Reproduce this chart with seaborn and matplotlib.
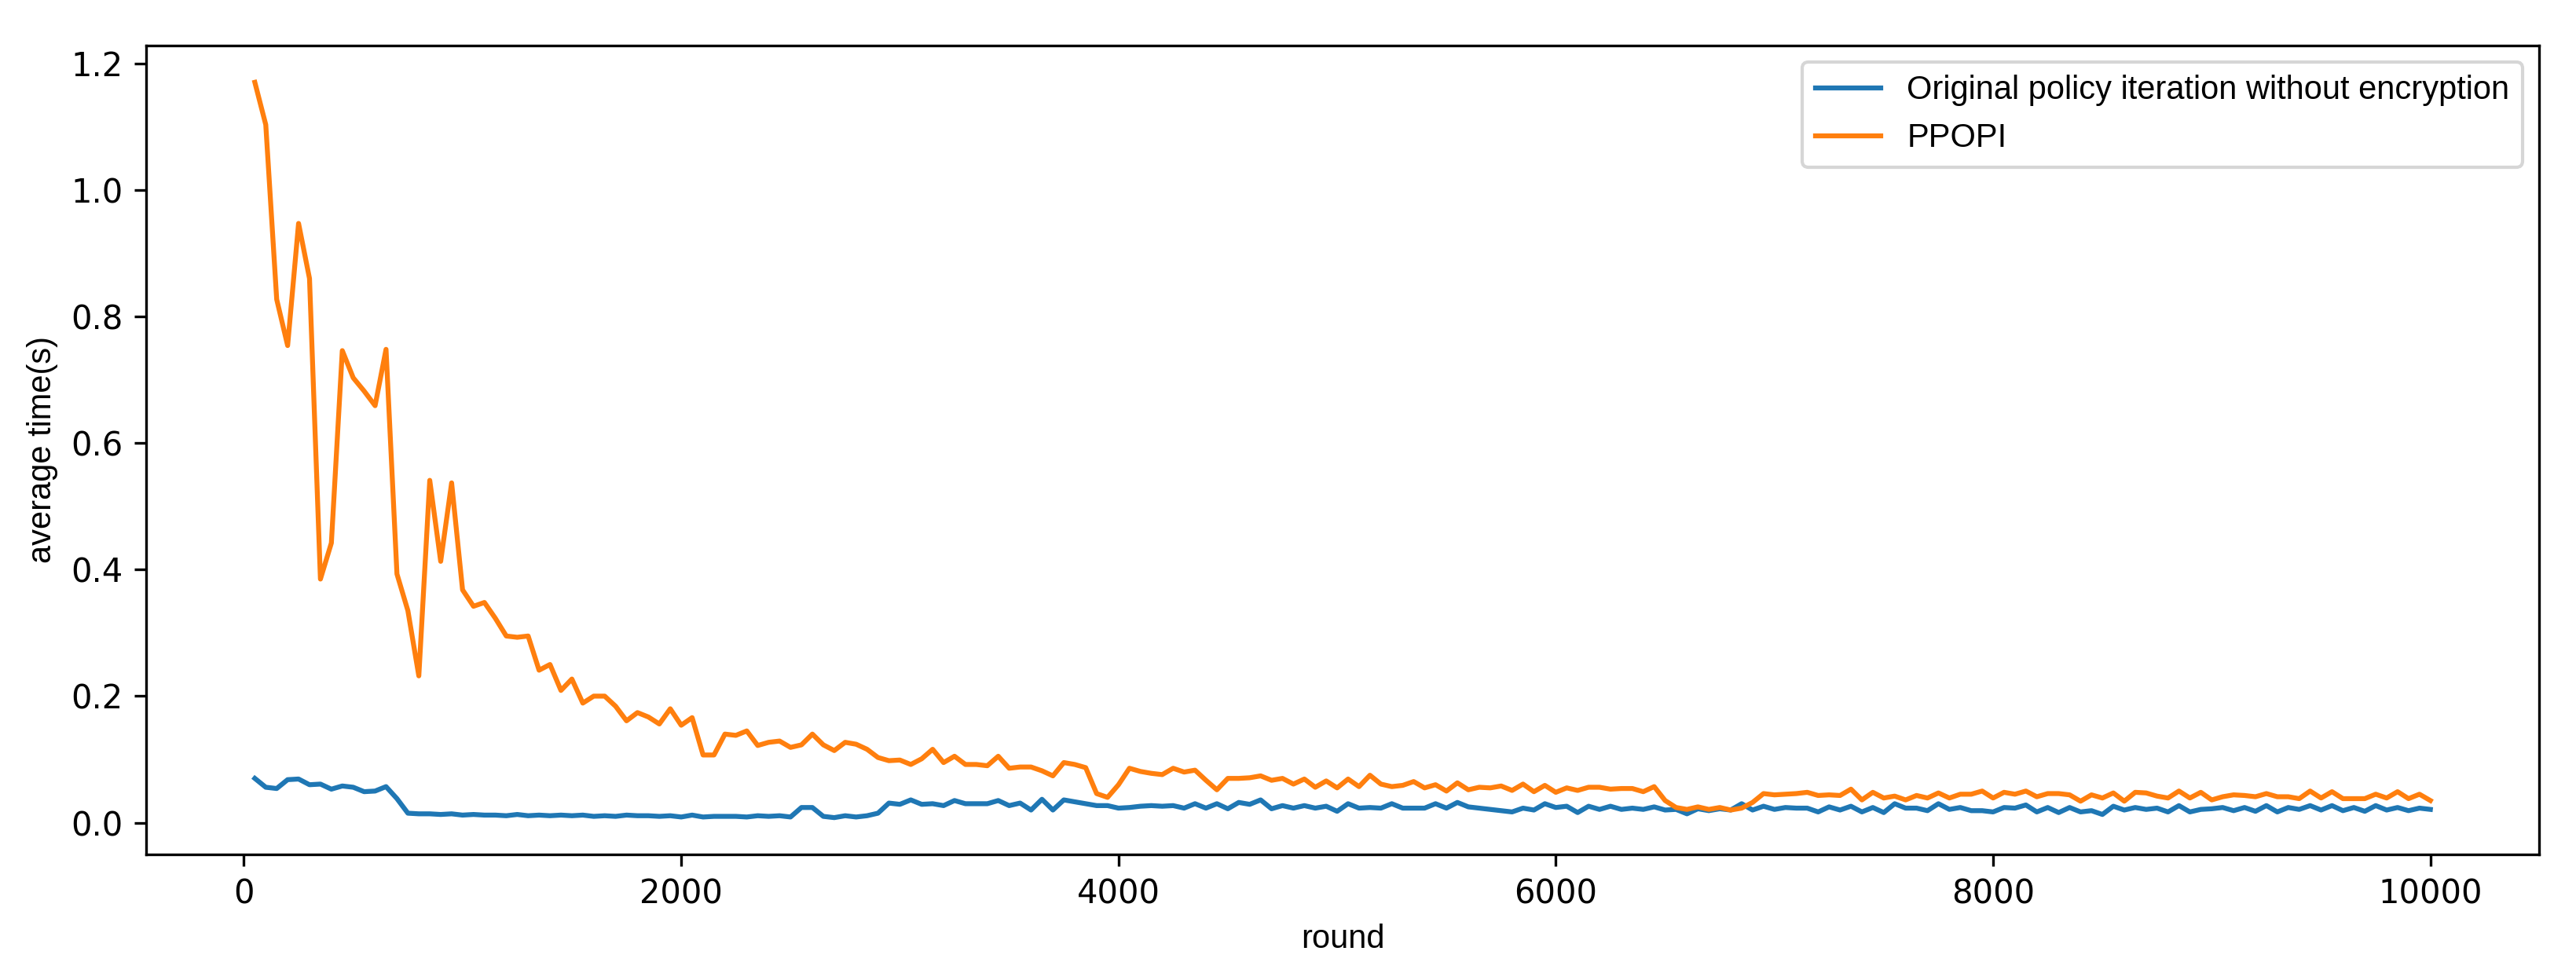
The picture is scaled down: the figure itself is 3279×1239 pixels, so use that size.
import matplotlib
matplotlib.use("Agg")
import matplotlib.pyplot as plt
import numpy as np
import pandas as pd
import seaborn as sns

# rounds 50..10000, one value every 50 rounds
rounds = list(range(50, 10001, 50))

plain_times = [
    0.070, 0.056, 0.054, 0.068, 0.069, 0.060, 0.061, 0.053, 0.058, 0.056,
    0.049, 0.050, 0.057, 0.038, 0.015, 0.014, 0.014, 0.013, 0.014, 0.012,
    0.013, 0.012, 0.012, 0.011, 0.013, 0.011, 0.012, 0.011, 0.012, 0.011,
    0.012, 0.010, 0.011, 0.010, 0.012, 0.011, 0.011, 0.010, 0.011, 0.009,
    0.012, 0.009, 0.010, 0.010, 0.010, 0.009, 0.011, 0.010, 0.011, 0.009,
    0.024, 0.024, 0.010, 0.008, 0.011, 0.009, 0.011, 0.015, 0.031, 0.029,
    0.036, 0.029, 0.030, 0.027, 0.035, 0.030, 0.030, 0.030, 0.035, 0.027,
    0.031, 0.020, 0.037, 0.020, 0.036, 0.033, 0.030, 0.027, 0.027, 0.023,
    0.024, 0.026, 0.027, 0.026, 0.027, 0.023, 0.030, 0.023, 0.030, 0.022,
    0.032, 0.029, 0.036, 0.022, 0.027, 0.023, 0.027, 0.023, 0.026, 0.018,
    0.030, 0.023, 0.024, 0.023, 0.030, 0.023, 0.023, 0.023, 0.030, 0.023,
    0.032, 0.025, 0.023, 0.021, 0.019, 0.017, 0.023, 0.020, 0.030, 0.024,
    0.026, 0.016, 0.026, 0.021, 0.026, 0.021, 0.023, 0.021, 0.025, 0.020,
    0.021, 0.014, 0.022, 0.019, 0.022, 0.020, 0.030, 0.020, 0.026, 0.021,
    0.024, 0.023, 0.023, 0.017, 0.025, 0.020, 0.026, 0.017, 0.024, 0.016,
    0.030, 0.023, 0.023, 0.019, 0.030, 0.021, 0.024, 0.019, 0.019, 0.017,
    0.024, 0.023, 0.028, 0.017, 0.024, 0.016, 0.024, 0.017, 0.019, 0.013,
    0.026, 0.020, 0.024, 0.021, 0.023, 0.017, 0.027, 0.017, 0.021, 0.022,
    0.024, 0.019, 0.024, 0.018, 0.027, 0.017, 0.024, 0.021, 0.027, 0.020,
    0.027, 0.019, 0.024, 0.018, 0.027, 0.020, 0.024, 0.019, 0.023, 0.021,
]

ppopi_times = [
    1.170, 1.103, 0.827, 0.754, 0.947, 0.860, 0.385, 0.442, 0.746, 0.703,
    0.682, 0.659, 0.748, 0.393, 0.335, 0.232, 0.541, 0.413, 0.537, 0.368,
    0.342, 0.348, 0.323, 0.295, 0.293, 0.295, 0.241, 0.250, 0.209, 0.227,
    0.189, 0.200, 0.200, 0.184, 0.161, 0.174, 0.167, 0.156, 0.180, 0.154,
    0.166, 0.107, 0.107, 0.140, 0.138, 0.145, 0.122, 0.127, 0.129, 0.119,
    0.123, 0.140, 0.123, 0.114, 0.127, 0.124, 0.116, 0.103, 0.098, 0.099,
    0.092, 0.101, 0.116, 0.095, 0.105, 0.092, 0.092, 0.090, 0.105, 0.086,
    0.088, 0.088, 0.082, 0.074, 0.095, 0.092, 0.087, 0.046, 0.040, 0.060,
    0.086, 0.081, 0.078, 0.076, 0.086, 0.080, 0.083, 0.067, 0.052, 0.070,
    0.070, 0.071, 0.074, 0.067, 0.070, 0.061, 0.069, 0.056, 0.066, 0.055,
    0.069, 0.057, 0.075, 0.061, 0.057, 0.059, 0.065, 0.055, 0.060, 0.050,
    0.063, 0.052, 0.056, 0.055, 0.058, 0.051, 0.061, 0.049, 0.059, 0.048,
    0.055, 0.051, 0.056, 0.056, 0.053, 0.054, 0.054, 0.049, 0.057, 0.035,
    0.024, 0.021, 0.025, 0.021, 0.024, 0.020, 0.023, 0.032, 0.046, 0.044,
    0.045, 0.046, 0.048, 0.043, 0.044, 0.043, 0.053, 0.036, 0.048, 0.039,
    0.042, 0.036, 0.043, 0.039, 0.047, 0.039, 0.045, 0.045, 0.050, 0.039,
    0.048, 0.045, 0.050, 0.041, 0.046, 0.046, 0.044, 0.034, 0.044, 0.039,
    0.047, 0.034, 0.048, 0.047, 0.042, 0.039, 0.050, 0.039, 0.048, 0.036,
    0.041, 0.044, 0.043, 0.041, 0.046, 0.041, 0.041, 0.038, 0.050, 0.039,
    0.049, 0.038, 0.038, 0.038, 0.045, 0.039, 0.049, 0.038, 0.045, 0.035,
]

labels = ["Original policy iteration without encryption", "PPOPI"]

assert len(plain_times) == len(rounds) and len(ppopi_times) == len(rounds)

df = pd.DataFrame({
    "round": rounds * 2,
    "time": plain_times + ppopi_times,
    "method": [labels[0]] * len(rounds) + [labels[1]] * len(rounds),
})

# narrower face for labels and legend, like the reference
narrow = ["Liberation Sans", "DejaVu Sans"]

fig, ax = plt.subplots(figsize=(3279 / 300, 1239 / 300), dpi=300)
fig.subplots_adjust(left=0.0567, right=0.9857, bottom=0.1219, top=0.9532)

sns.lineplot(data=df, x="round", y="time", hue="method",
             palette=["#1f77b4", "#ff7f0e"], linewidth=1.5, ax=ax)

ax.set_xticks([0, 2000, 4000, 6000, 8000, 10000])
ax.set_yticks([0.0, 0.2, 0.4, 0.6, 0.8, 1.0, 1.2])
ax.set_xlabel("round", family=narrow, fontsize=10)
ax.set_ylabel("average time(s)", family=narrow, fontsize=10)

ax.legend(loc="upper right", prop={"family": narrow, "size": 10})

fig.savefig("out.png", dpi=300)
